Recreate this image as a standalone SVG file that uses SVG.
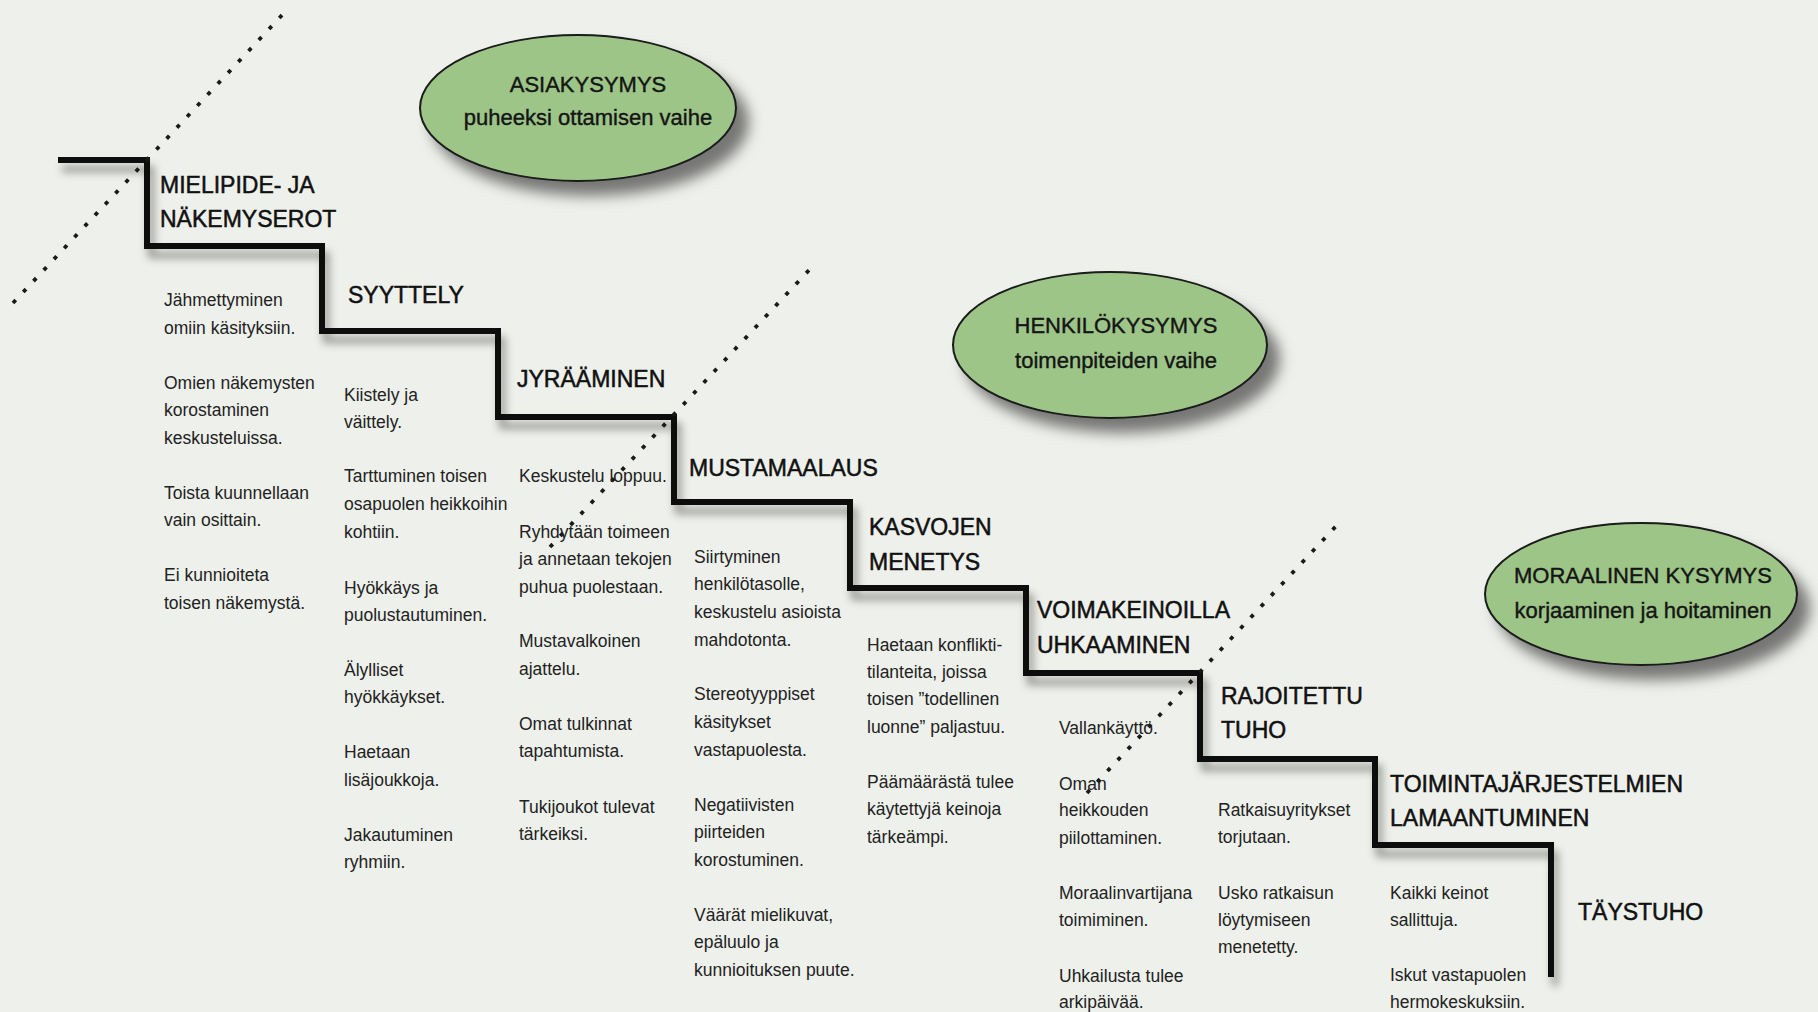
<svg xmlns="http://www.w3.org/2000/svg" width="1818" height="1012" viewBox="0 0 1818 1012">
<defs>
<filter id="stairShadow" x="-5%" y="-5%" width="115%" height="115%">
<feDropShadow dx="4" dy="9" stdDeviation="4" flood-color="#000" flood-opacity="0.4"/>
</filter>
<filter id="ellShadow" x="-20%" y="-20%" width="150%" height="160%">
<feDropShadow dx="12" dy="14" stdDeviation="7" flood-color="#000" flood-opacity="0.5"/>
</filter>
</defs>
<style>
.bg{fill:#eef0eb}
.stair{fill:none;stroke:#111;stroke-width:6;stroke-linejoin:miter}
.dots{fill:none;stroke:#1a1a1a;stroke-width:3.8;stroke-dasharray:4 11}
.ell{fill:#9dc588;stroke:#1a1a1a;stroke-width:2}
.et{font-family:"Liberation Sans",Arial,sans-serif;font-size:22px;fill:#151515;stroke:#151515;stroke-width:0.4;text-anchor:middle}
.h{font-family:"Liberation Sans",Arial,sans-serif;font-size:23px;fill:#111;stroke:#111;stroke-width:0.5}
.b{font-family:"Liberation Sans",Arial,sans-serif;font-size:17.5px;fill:#222}
</style>
<rect class="bg" x="0" y="0" width="1818" height="1012"/>

<g id="connectors">
<path class="stair" filter="url(#stairShadow)" d="M58,160 H147 V246 H322 V331 H498 V417 H674 V502 H850 V588 H1026 V673 H1200 V759 H1375 V845 H1551 V977"/>
<line class="dots" x1="13" y1="303" x2="284" y2="13"/>
<line class="dots" x1="550" y1="547" x2="811" y2="268"/>
<line class="dots" x1="1087" y1="793" x2="1338" y2="524"/>
</g>

<g id="asiakysymys">
<ellipse class="ell" filter="url(#ellShadow)" cx="578" cy="108" rx="158" ry="73"/>
<text class="et" x="588" y="92">ASIAKYSYMYS</text>
<text class="et" x="588" y="125">puheeksi ottamisen vaihe</text>
</g>

<g id="henkilokysymys">
<ellipse class="ell" filter="url(#ellShadow)" cx="1110" cy="345" rx="157" ry="73"/>
<text class="et" x="1116" y="333">HENKILÖKYSYMYS</text>
<text class="et" x="1116" y="368">toimenpiteiden vaihe</text>
</g>

<g id="moraalinen-kysymys">
<ellipse class="ell" filter="url(#ellShadow)" cx="1641" cy="594" rx="156" ry="71"/>
<text class="et" x="1643" y="583">MORAALINEN KYSYMYS</text>
<text class="et" x="1643" y="618">korjaaminen ja hoitaminen</text>
</g>

<g id="mielipide">
<text class="h" x="160" y="193">MIELIPIDE- JA</text>
<text class="h" x="160" y="227">NÄKEMYSEROT</text>
<text class="b" x="164" y="306">Jähmettyminen</text>
<text class="b" x="164" y="334">omiin käsityksiin.</text>
<text class="b" x="164" y="389">Omien näkemysten</text>
<text class="b" x="164" y="416">korostaminen</text>
<text class="b" x="164" y="444">keskusteluissa.</text>
<text class="b" x="164" y="499">Toista kuunnellaan</text>
<text class="b" x="164" y="526">vain osittain.</text>
<text class="b" x="164" y="581">Ei kunnioiteta</text>
<text class="b" x="164" y="609">toisen näkemystä.</text>
</g>

<g id="syyttely">
<text class="h" x="348" y="303">SYYTTELY</text>
<text class="b" x="344" y="401">Kiistely ja</text>
<text class="b" x="344" y="428">väittely.</text>
<text class="b" x="344" y="482">Tarttuminen toisen</text>
<text class="b" x="344" y="510">osapuolen heikkoihin</text>
<text class="b" x="344" y="538">kohtiin.</text>
<text class="b" x="344" y="594">Hyökkäys ja</text>
<text class="b" x="344" y="621">puolustautuminen.</text>
<text class="b" x="344" y="676">Älylliset</text>
<text class="b" x="344" y="703">hyökkäykset.</text>
<text class="b" x="344" y="758">Haetaan</text>
<text class="b" x="344" y="786">lisäjoukkoja.</text>
<text class="b" x="344" y="841">Jakautuminen</text>
<text class="b" x="344" y="868">ryhmiin.</text>
</g>

<g id="jyraaminen">
<text class="h" x="517" y="387">JYRÄÄMINEN</text>
<text class="b" x="519" y="482">Keskustelu loppuu.</text>
<text class="b" x="519" y="538">Ryhdytään toimeen</text>
<text class="b" x="519" y="565">ja annetaan tekojen</text>
<text class="b" x="519" y="593">puhua puolestaan.</text>
<text class="b" x="519" y="647">Mustavalkoinen</text>
<text class="b" x="519" y="675">ajattelu.</text>
<text class="b" x="519" y="730">Omat tulkinnat</text>
<text class="b" x="519" y="757">tapahtumista.</text>
<text class="b" x="519" y="813">Tukijoukot tulevat</text>
<text class="b" x="519" y="840">tärkeiksi.</text>
</g>

<g id="mustamaalaus">
<text class="h" x="689" y="476">MUSTAMAALAUS</text>
<text class="b" x="694" y="563">Siirtyminen</text>
<text class="b" x="694" y="590">henkilötasolle,</text>
<text class="b" x="694" y="618">keskustelu asioista</text>
<text class="b" x="694" y="646">mahdotonta.</text>
<text class="b" x="694" y="700">Stereotyyppiset</text>
<text class="b" x="694" y="728">käsitykset</text>
<text class="b" x="694" y="756">vastapuolesta.</text>
<text class="b" x="694" y="811">Negatiivisten</text>
<text class="b" x="694" y="838">piirteiden</text>
<text class="b" x="694" y="866">korostuminen.</text>
<text class="b" x="694" y="921">Väärät mielikuvat,</text>
<text class="b" x="694" y="948">epäluulo ja</text>
<text class="b" x="694" y="976">kunnioituksen puute.</text>
</g>

<g id="kasvojen-menetys">
<text class="h" x="869" y="535">KASVOJEN</text>
<text class="h" x="869" y="570">MENETYS</text>
<text class="b" x="867" y="651">Haetaan konflikti-</text>
<text class="b" x="867" y="678">tilanteita, joissa</text>
<text class="b" x="867" y="705">toisen ”todellinen</text>
<text class="b" x="867" y="733">luonne” paljastuu.</text>
<text class="b" x="867" y="788">Päämäärästä tulee</text>
<text class="b" x="867" y="815">käytettyjä keinoja</text>
<text class="b" x="867" y="843">tärkeämpi.</text>
</g>

<g id="voimakeinoilla">
<text class="h" x="1037" y="618">VOIMAKEINOILLA</text>
<text class="h" x="1037" y="653">UHKAAMINEN</text>
<text class="b" x="1059" y="734">Vallankäyttö.</text>
<text class="b" x="1059" y="790">Oman</text>
<text class="b" x="1059" y="816">heikkouden</text>
<text class="b" x="1059" y="844">piilottaminen.</text>
<text class="b" x="1059" y="899">Moraalinvartijana</text>
<text class="b" x="1059" y="926">toimiminen.</text>
<text class="b" x="1059" y="982">Uhkailusta tulee</text>
<text class="b" x="1059" y="1008">arkipäivää.</text>
</g>

<g id="rajoitettu-tuho">
<text class="h" x="1221" y="704">RAJOITETTU</text>
<text class="h" x="1221" y="738">TUHO</text>
<text class="b" x="1218" y="816">Ratkaisuyritykset</text>
<text class="b" x="1218" y="843">torjutaan.</text>
<text class="b" x="1218" y="899">Usko ratkaisun</text>
<text class="b" x="1218" y="926">löytymiseen</text>
<text class="b" x="1218" y="953">menetetty.</text>
</g>

<g id="lamaantuminen">
<text class="h" x="1390" y="792">TOIMINTAJÄRJESTELMIEN</text>
<text class="h" x="1390" y="826">LAMAANTUMINEN</text>
<text class="b" x="1390" y="899">Kaikki keinot</text>
<text class="b" x="1390" y="926">sallittuja.</text>
<text class="b" x="1390" y="981">Iskut vastapuolen</text>
<text class="b" x="1390" y="1008">hermokeskuksiin.</text>
</g>

<g id="taystuho">
<text class="h" x="1578" y="920">TÄYSTUHO</text>
</g>
</svg>
